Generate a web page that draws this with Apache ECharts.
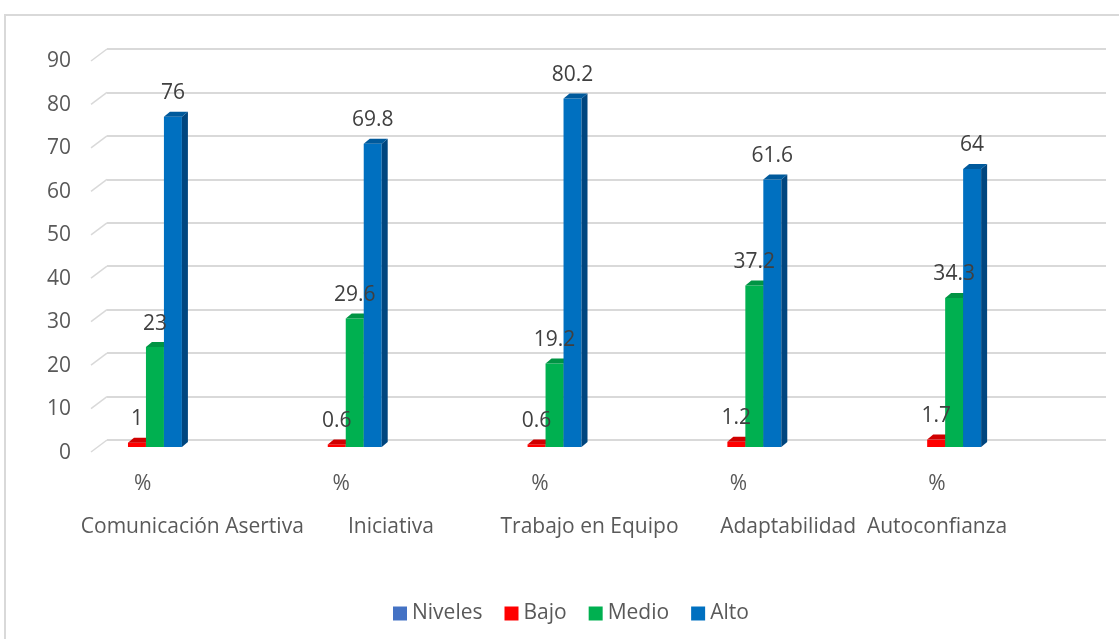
<!DOCTYPE html>
<html>
<head>
<meta charset="utf-8">
<script src="https://cdn.jsdelivr.net/npm/echarts@6/dist/echarts.min.js"></script>
<style>
  html, body { margin: 0; padding: 0; background: #fff; }
  #wrap { position: relative; width: 1119px; height: 639px; overflow: hidden; }
  #frame { position: absolute; left: 4px; top: 14px; width: 1200px; height: 700px; border: 2px solid #d9d9d9; box-sizing: border-box; }
  #chart { position: absolute; left: 0; top: 0; width: 1119px; height: 639px; }
</style>
</head>
<body>
<div id="wrap"><div id="frame"></div><div id="chart"></div></div>
<script>
// ---- data ----
const innerLabels = ['%', '', '%', '', '%', '', '%', '', '%', ''];
const outerLabels = ['Comunicación Asertiva', 'Iniciativa', 'Trabajo en Equipo', 'Adaptabilidad', 'Autoconfianza'];
const outerSpans = [2, 2, 2, 2, 1];
const seriesNames = ['Niveles', 'Bajo', 'Medio', 'Alto'];
const niveles = [];
const bajo = [1, 0.6, 0.6, 1.2, 1.7];
const medio = [23, 29.6, 19.2, 37.2, 34.3];
const alto = [76, 69.8, 80.2, 61.6, 64];
const yTicks = [0, 10, 20, 30, 40, 50, 60, 70, 80, 90];

// ---- styles ----
const FONT = 'Open Sans';
const FS = 21;
const TXT = '#595959';
const colors = {
  Niveles: ['#4472C4', '#2F528F', '#365C9E'],
  Bajo: ['#FF0000', '#B30000', '#D00000'],
  Medio: ['#00B050', '#007A38', '#009444'],
  Alto: ['#0070C0', '#00467F', '#005A9C']
};
const BAR_RATIO = 0.18, DX = 6, DY = 5;

// outer axis (points at half-slot resolution)
const outerAxisData = new Array(innerLabels.length * 2 + 1).fill('');
let start = 0;
outerLabels.forEach((name, i) => {
  outerAxisData[2 * start + outerSpans[i]] = name;
  start += outerSpans[i];
});

// slot index of each group's "%" category
const groupSlots = [];
start = 0;
outerSpans.forEach(s => { groupSlots.push(start); start += s; });

function toData(arr) { return arr.map((v, i) => [groupSlots[i], v]); }

function bar3d(slotOffset, c) {
  return function (params, api) {
    const cat = api.value(0), v = api.value(1);
    const base = api.coord([cat, 0]);
    const top = api.coord([cat, v]);
    const bw = api.size([1, 0])[0] * BAR_RATIO;
    const x0 = base[0] + (slotOffset - 2) * bw;
    const x1 = x0 + bw;
    const yb = base[1], yt = top[1];
    return {
      type: 'group',
      children: [
        { type: 'rect', shape: { x: x0, y: yt, width: bw, height: yb - yt }, style: { fill: c[0] } },
        { type: 'polygon', shape: { points: [[x1, yt], [x1 + DX, yt - DY], [x1 + DX, yb - DY], [x1, yb]] }, style: { fill: c[1] } },
        { type: 'polygon', shape: { points: [[x0, yt], [x0 + DX, yt - DY], [x1 + DX, yt - DY], [x1, yt]] }, style: { fill: c[2] } },
        { type: 'text', z2: 100, style: { text: String(v), x: (x0 + x1) / 2, y: yt - 13, align: 'center', verticalAlign: 'bottom', fill: '#404040', font: FS + 'px "' + FONT + '"' } }
      ]
    };
  };
}

const seriesData = { Niveles: niveles, Bajo: bajo, Medio: medio, Alto: alto };

const series = seriesNames.map((name, k) => ({
  name: name,
  type: 'custom',
  xAxisIndex: 3,
  yAxisIndex: 2,
  itemStyle: { color: colors[name][0] },
  renderItem: bar3d(k, colors[name]),
  data: toData(seriesData[name])
}));

// back-wall to front diagonal stubs
series.push({
  type: 'custom',
  xAxisIndex: 0,
  yAxisIndex: 0,
  silent: true,
  renderItem: function (params, api) {
    const p = api.coord([0, api.value(0)]);
    return { type: 'line', shape: { x1: p[0] - 16, y1: p[1] + 12, x2: p[0], y2: p[1] }, style: { stroke: '#d9d9d9', lineWidth: 1.5 } };
  },
  data: yTicks.map(v => [v])
});

const chart = echarts.init(document.getElementById('chart'));
chart.setOption({
  animation: false,
  textStyle: { fontFamily: FONT },
  grid: [
    { left: 107, right: 13, top: 49, bottom: 199 },  // back wall
    { left: 93, right: 33, top: 61, bottom: 186 },   // front (labels)
    { left: 96, right: 24, top: 56, bottom: 192 }    // bars (mid depth)
  ],
  xAxis: [
    { gridIndex: 0, type: 'value', min: 0, max: 1, show: false },
    { gridIndex: 1, type: 'category', data: innerLabels, axisLine: { show: false }, axisTick: { show: false },
      axisLabel: { interval: 0, margin: 21, fontSize: FS, color: TXT, fontFamily: FONT } },
    { gridIndex: 1, type: 'category', data: outerAxisData, boundaryGap: false, position: 'bottom',
      axisLine: { show: false }, axisTick: { show: false },
      axisLabel: { interval: 0, margin: 64, fontSize: FS, color: TXT, fontFamily: FONT, hideOverlap: false } },
    { gridIndex: 2, type: 'category', data: innerLabels, show: false }
  ],
  yAxis: [
    { gridIndex: 0, type: 'value', min: 0, max: 90, interval: 10, axisLabel: { show: false },
      axisLine: { show: false }, axisTick: { show: false },
      splitLine: { show: true, lineStyle: { color: '#d9d9d9', width: 2 } } },
    { gridIndex: 1, type: 'value', min: 0, max: 90, interval: 10,
      axisLine: { show: false }, axisTick: { show: false }, splitLine: { show: false },
      axisLabel: { margin: 22, fontSize: FS, color: TXT, fontFamily: FONT, padding: [3, 0, 0, 0] } },
    { gridIndex: 2, type: 'value', min: 0, max: 90, interval: 10, show: false, splitLine: { show: false } }
  ],
  legend: {
    data: seriesNames,
    left: 388, top: 598,
    icon: 'rect', itemWidth: 14, itemHeight: 14, itemGap: 22,
    textStyle: { fontSize: FS, color: TXT, fontFamily: FONT }
  },
  series: series
});
</script>
</body>
</html>
